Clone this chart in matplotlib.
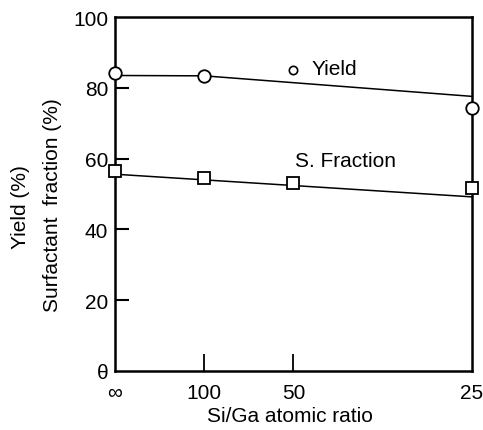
import matplotlib
matplotlib.use("Agg")
import matplotlib.pyplot as plt
import numpy as np

plt.rcParams['font.family'] = ['Liberation Sans', 'DejaVu Sans']

# Si/Ga atomic ratio, plotted on a 100/ratio axis
ratio_labels = ["\u221e", "100", "50", "25"]
ratio_pos = [0, 1, 2, 4]

# measured points
yield_x = [0, 1, 4]
yield_vals = [84.1, 83.4, 74.4]
frac_x = [0, 1, 2, 4]
frac_vals = [56.5, 54.5, 53.0, 51.6]

# drawn trend lines
yield_fit_x = [0, 1, 4]
yield_fit = [83.5, 83.4, 77.6]
frac_fit_x = [0, 4]
frac_fit = [55.6, 49.2]

fs = 15

fig = plt.figure(figsize=(4.83, 4.31), dpi=100)
ax = fig.add_axes([0.238, 0.137, 0.739, 0.821])

ax.plot(yield_fit_x, yield_fit, color='black', lw=1.1, clip_on=False)
ax.plot(frac_fit_x, frac_fit, color='black', lw=1.1, clip_on=False)
ax.plot(yield_x, yield_vals, 'o', mfc='white', mec='black', mew=1.3, ms=9, clip_on=False, zorder=5)
ax.plot(frac_x, frac_vals, 's', mfc='white', mec='black', mew=1.3, ms=8, clip_on=False, zorder=5)

ax.set_xlim(0, 4)
ax.set_ylim(0, 100)

ax.set_xticks([1, 2])
ax.set_xticklabels([])
ax.tick_params(axis='x', direction='in', length=12, width=1.3)
for p, lab in zip(ratio_pos, ratio_labels):
    ax.text(p, -6, lab, ha='center', va='center', fontsize=fs)

ax.set_yticks([0, 20, 40, 60, 80, 100])
ax.set_yticklabels(["\u03b8", "20", "40", "60", "80", "100"], fontsize=fs)
ax.tick_params(axis='y', direction='in', length=10, width=1.5, pad=5)
for t in ax.yaxis.get_major_ticks():
    if t.get_loc() in (0, 100):
        t.tick1line.set_visible(False)

for s in ax.spines.values():
    s.set_linewidth(1.8)

ax.plot([2], [85], 'o', mfc='white', mec='black', mew=1.2, ms=6, clip_on=False)
ax.text(2.2, 85.5, "Yield", ha='left', va='center', fontsize=fs)
ax.text(2.02, 59.5, "S. Fraction", ha='left', va='center', fontsize=fs)

fig.text(0.60, 0.033, "Si/Ga atomic ratio", ha='center', va='center', fontsize=fs)
fig.text(0.042, 0.52, "Yield (%)", rotation=90, ha='center', va='center', fontsize=fs)
fig.text(0.108, 0.525, "Surfactant  fraction (%)", rotation=90, ha='center', va='center', fontsize=fs)

fig.savefig("out.png", dpi=100)
